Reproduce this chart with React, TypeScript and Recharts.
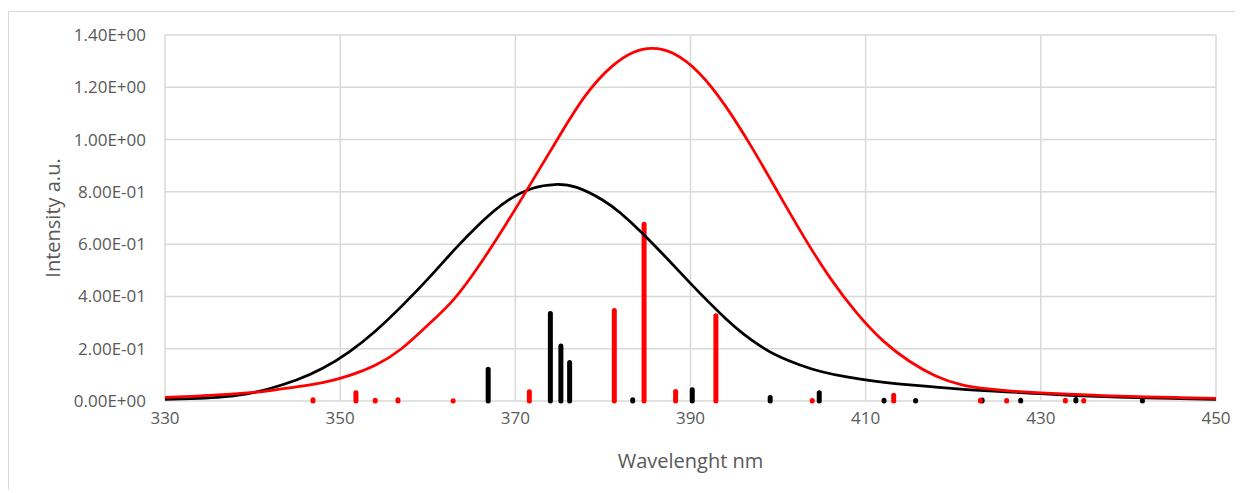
import React from 'react';
import { ComposedChart, Line, XAxis, YAxis, CartesianGrid, ReferenceLine, Label } from 'recharts';

// Black calculated spectrum (wavelength nm, intensity)
const blackCurveX = [330, 333, 336, 339, 342, 345, 348, 351, 354, 357, 360, 363, 366, 369, 372, 374.5, 377, 380, 382, 384, 386, 388, 390, 392, 394, 396, 398, 400, 402.5, 405, 408, 411, 414, 418, 422, 426, 430, 434, 438, 442, 446, 450];
const blackCurveY = [0.006, 0.009, 0.014, 0.025, 0.048, 0.08, 0.125, 0.187, 0.267, 0.362, 0.466, 0.577, 0.68, 0.764, 0.814, 0.828, 0.817, 0.768, 0.719, 0.658, 0.591, 0.521, 0.45, 0.381, 0.316, 0.258, 0.21, 0.172, 0.138, 0.112, 0.091, 0.076, 0.065, 0.053, 0.043, 0.035, 0.028, 0.021, 0.016, 0.012, 0.009, 0.006];

// Red calculated spectrum
const redCurveX = [330, 333, 336, 339, 342, 345, 348, 351, 354, 357, 360, 363, 366, 369, 372, 375, 378, 381, 383.5, 385.6, 388, 391, 394, 397, 400, 403, 406, 409, 412, 415, 418, 421, 424, 427, 430, 434, 438, 442, 446, 450];
const redCurveY = [0.014, 0.018, 0.023, 0.03, 0.04, 0.054, 0.07, 0.097, 0.137, 0.2, 0.29, 0.39, 0.525, 0.68, 0.845, 1.012, 1.168, 1.279, 1.334, 1.349, 1.33, 1.254, 1.128, 0.97, 0.797, 0.625, 0.468, 0.336, 0.23, 0.152, 0.096, 0.062, 0.046, 0.037, 0.031, 0.025, 0.02, 0.016, 0.013, 0.01];

// Stick transitions
const redStickX = [346.9, 351.8, 354.0, 356.6, 362.9, 371.6, 381.3, 384.7, 388.3, 392.9, 403.9, 413.2, 423.1, 426.1, 432.8, 434.9];
const redStickY = [0.005, 0.032, 0.003, 0.005, 0.001, 0.035, 0.346, 0.676, 0.036, 0.326, 0.002, 0.022, 0.003, 0.002, 0.003, 0.002];
const blackStickX = [366.9, 374.0, 375.2, 376.2, 383.4, 390.2, 399.1, 404.7, 412.1, 415.7, 423.3, 427.7, 434.0, 441.6];
const blackStickY = [0.121, 0.335, 0.21, 0.147, 0.005, 0.043, 0.013, 0.032, 0.003, 0.002, 0.004, 0.003, 0.006, 0.002];

const xTicks = [330, 350, 370, 390, 410, 430, 450];
const yTicks = [0, 0.2, 0.4, 0.6, 0.8, 1.0, 1.2, 1.4];

const blackData = blackCurveX.map((x, i) => ({ x, y: blackCurveY[i] }));
const redData = redCurveX.map((x, i) => ({ x, y: redCurveY[i] }));

const fmt = (v: number) => {
  const s = v.toExponential(2);
  const [m, e] = s.split('e');
  const sign = e[0];
  const d = e.slice(1).padStart(2, '0');
  return `${m}E${sign}${d}`;
};

const FONT = '"Open Sans", sans-serif';
const TXT = '#595959';

export default function App() {
  return (
    <div style={{ position: 'relative', width: 1235, height: 482 }}>
      <div style={{ position: 'absolute', left: 0, top: 3, width: 1235, height: 479, borderLeft: '1px solid #d9d9d9', borderTop: '1px solid #d9d9d9' }} />
      <div style={{ position: 'absolute', left: 0, top: 0 }}>
        <ComposedChart width={1235} height={482} margin={{ top: 27, right: 27, bottom: 29, left: 0 }}>
          <CartesianGrid stroke="#d9d9d9" strokeWidth={1.5} horizontalValues={yTicks} verticalValues={xTicks} />
          <XAxis
            type="number"
            dataKey="x"
            domain={[330, 450]}
            ticks={xTicks}
            allowDataOverflow
            height={60}
            tickLine={false}
            tickSize={0}
            tickMargin={11}
            axisLine={false}
            tick={{ fill: TXT, fontSize: 17, fontFamily: FONT }}
          >
            <Label
              content={(p: any) => {
                const vb = p.viewBox || {};
                return (
                  <text x={vb.x + vb.width / 2} y={460} textAnchor="middle" fill={TXT} fontSize={20} fontFamily={FONT}>
                    Wavelenght nm
                  </text>
                );
              }}
            />
          </XAxis>
          <YAxis
            type="number"
            domain={[0, 1.4]}
            ticks={yTicks}
            width={157}
            tickLine={false}
            tickSize={0}
            tickMargin={19}
            axisLine={false}
            tickFormatter={fmt}
            tick={{ fill: TXT, fontSize: 17, fontFamily: FONT }}
          >
            <Label
              content={(p: any) => {
                const vb = p.viewBox || {};
                const cx = 51.5;
                const cy = vb.y + vb.height / 2;
                return (
                  <text x={cx} y={cy} transform={`rotate(-90, ${cx}, ${cy})`} textAnchor="middle" fill={TXT} fontSize={20} fontFamily={FONT}>
                    Intensity a.u.
                  </text>
                );
              }}
            />
          </YAxis>
          {blackStickX.map((x, i) => (
            <ReferenceLine key={'b' + i} segment={[{ x, y: 0 }, { x, y: blackStickY[i] }]} stroke="#000000" strokeWidth={5} strokeLinecap="round" />
          ))}
          {redStickX.map((x, i) => (
            <ReferenceLine key={'r' + i} segment={[{ x, y: 0 }, { x, y: redStickY[i] }]} stroke="#ff0000" strokeWidth={5} strokeLinecap="round" />
          ))}
          <Line data={blackData} dataKey="y" type="natural" stroke="#000000" strokeWidth={2.75} dot={false} isAnimationActive={false} />
          <Line data={redData} dataKey="y" type="natural" stroke="#ff0000" strokeWidth={2.75} dot={false} isAnimationActive={false} />
        </ComposedChart>
      </div>
    </div>
  );
}
